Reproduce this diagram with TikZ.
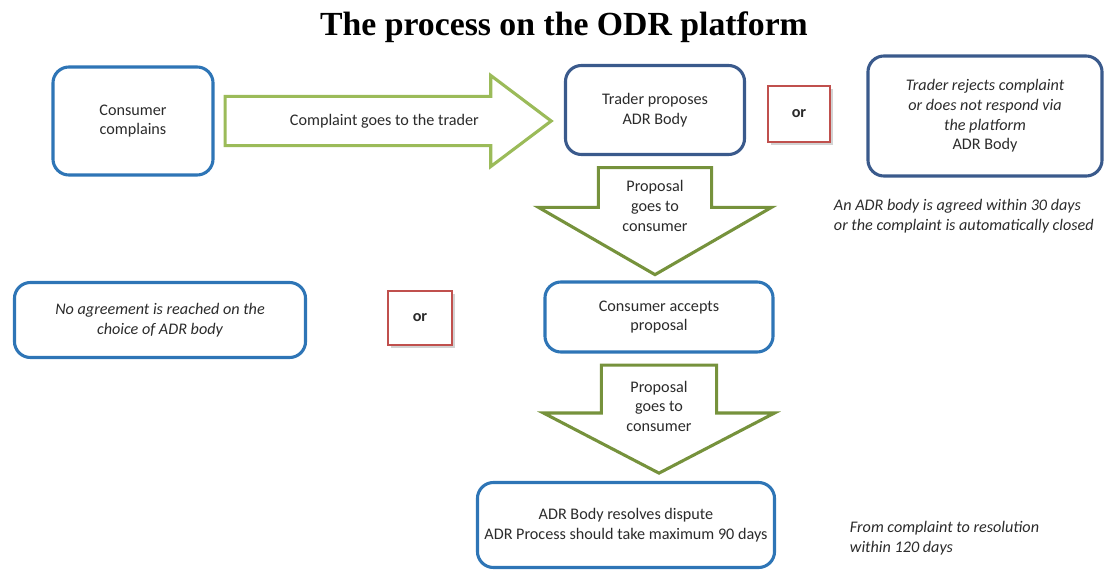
\documentclass[tikz,border=0pt]{standalone}
\usepackage{fontspec}
\setmainfont{Carlito}
\newfontfamily\titlefont{Liberation Serif}
\usetikzlibrary{positioning, calc, shapes.arrows, shadows}
\definecolor{odrblue}{HTML}{2E75B6}
\definecolor{odrnavy}{HTML}{3A5A8C}
\definecolor{odrgreen}{HTML}{9BBB59}
\definecolor{odrolive}{HTML}{76923C}
\definecolor{odrred}{HTML}{C0504D}
\definecolor{odrtext}{HTML}{2B2B2B}

\begin{document}
\begin{tikzpicture}[x=0.025cm, y=-0.025cm,
  font=\fontsize{11.5}{14}\selectfont, text=odrtext,
  stepbox/.style={draw=odrblue, line width=2.2pt, rounded corners=0.4cm, align=center, inner sep=2pt},
  traderbox/.style={stepbox, draw=odrnavy},
  orbox/.style={draw=odrred, line width=2pt, fill=white, minimum width=1.55cm, minimum height=1.4cm,
    font=\fontsize{11.5}{14}\selectfont\bfseries,
    drop shadow={opacity=0.35, shadow xshift=2pt, shadow yshift=-2pt}},
  blockarrow/.style={single arrow, draw=odrolive, line width=2.2pt, fill=white, inner xsep=0pt, anchor=tail},
  notetext/.style={font=\fontsize{11.5}{14}\selectfont\itshape, align=left, anchor=west}]
  \useasboundingbox (0,0) rectangle (1120,573);
  % title
  \node[font=\titlefont\fontsize{24}{28}\selectfont\bfseries, text=black] (title) at (564,27)
    {The process on the ODR platform};
  % first row
  \node[stepbox, minimum width=4cm, minimum height=2.7cm] (complain) at (133,121)
    {Consumer\\complains};
  \node[traderbox, minimum width=4.475cm, minimum height=2.225cm] (propose) at (655,110)
    {Trader proposes\\ADR Body};
  \node[orbox] (orTop) at (799,114) {or};
  \node[traderbox, minimum width=5.85cm, minimum height=3cm] (reject) at (985,116)
    {\itshape Trader rejects complaint\\ \itshape or does not respond via\\ \itshape the platform\\ADR Body};
  \node[notetext] (agreed) at (829,216)
    {An ADR body is agreed within 30 days\\or the complaint is automatically closed};
  % second row
  \node[stepbox, minimum width=7.275cm, minimum height=1.875cm, font=\fontsize{11.5}{14}\selectfont\itshape] (noAgree) at (160,320)
    {No agreement is reached on the\\choice of ADR body};
  \node[orbox, minimum width=1.6cm, minimum height=1.35cm] (orMid) at (420,318) {or};
  \node[stepbox, minimum width=5.7cm, minimum height=1.75cm] (accept) at (659,317)
    {Consumer accepts\\proposal};
  % last row
  \node[stepbox, minimum width=7.425cm, minimum height=2.125cm] (resolve) at (626,525)
    {ADR Body resolves dispute\\ADR Process should take maximum 90 days};
  \node[notetext] (total) at (845,538) {From complaint to resolution\\within 120 days};
  % block arrows
  \node[blockarrow, draw=odrgreen, minimum height=8.15cm, inner ysep=0.575cm,
    single arrow head extend=0.525cm, single arrow tip angle=74] (toTrader)
    at ([xshift=0.225cm]complain.east) {};
  \node (toTraderText) at ([xshift=4.02cm]toTrader.tail) {Complaint goes to the trader};
  \node[blockarrow, rotate=-90, minimum height=2.675cm, inner ysep=1.375cm,
    single arrow head extend=1.5cm, single arrow tip angle=120] (toConsumer)
    at ([yshift=-0.25cm]propose.south) {};
  \node[align=center] (toConsumerText) at ([yshift=-1cm]toConsumer.tail) {Proposal\\goes to\\consumer};
  \node[blockarrow, rotate=-90, minimum height=2.7cm, inner ysep=1.4cm,
    single arrow head extend=1.45cm, single arrow tip angle=125] (toBody)
    at ([yshift=-0.25cm]accept.south) {};
  \node[align=center] (toBodyText) at ([yshift=-1.07cm]toBody.tail) {Proposal\\goes to\\consumer};
\end{tikzpicture}
\end{document}
